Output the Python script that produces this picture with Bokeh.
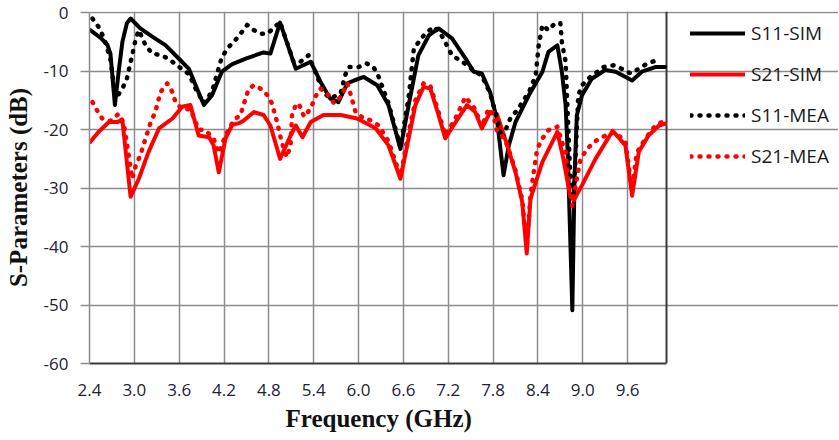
from bokeh.plotting import figure
from bokeh.models import (FixedTicker, Legend, LegendItem, Range1d, Grid, Title,
                          CustomJSTickFormatter)
from bokeh.embed import file_html
from bokeh.resources import INLINE

# ---------------- data ----------------
x_ticks = [2.4, 3.0, 3.6, 4.2, 4.8, 5.4, 6.0, 6.6, 7.2, 7.8, 8.4, 9.0, 9.6]
y_ticks = [0, -10, -20, -30, -40, -50, -60]
x_min, x_max = 2.4, 10.12
y_min, y_max = -60, 0

s11_sim_f = [2.41, 2.55, 2.64, 2.68, 2.74, 2.79, 2.84, 2.90, 2.95, 3.08, 3.24, 3.42,
             3.59, 3.73, 3.82, 3.93, 4.04, 4.17, 4.31, 4.50, 4.73, 4.82, 4.95, 5.16,
             5.36, 5.49, 5.62, 5.73, 5.85, 5.94, 6.07, 6.25, 6.40, 6.56, 6.67, 6.80,
             6.94, 7.07, 7.25, 7.43, 7.54, 7.65, 7.76, 7.85, 7.94, 8.01, 8.10, 8.28,
             8.46, 8.54, 8.66, 8.72, 8.77, 8.80, 8.86, 8.89, 8.92, 8.99, 9.12, 9.30,
             9.44, 9.66, 9.79, 9.97, 10.10]
s11_sim = [-3.0, -4.3, -5.5, -7.0, -15.8, -10.1, -5.0, -1.8, -1.0, -2.7, -4.1, -5.6,
           -7.8, -9.6, -12.4, -15.8, -14.1, -10.1, -8.8, -7.8, -6.8, -7.0, -1.7, -9.6,
           -8.4, -11.8, -14.7, -15.3, -12.1, -11.6, -11.0, -12.4, -15.8, -23.3, -15.8, -7.3,
           -3.9, -2.7, -4.4, -7.8, -10.1, -10.4, -13.6, -18.1, -27.8, -22.7, -18.7, -14.1,
           -10.1, -6.7, -5.6, -10.1, -15.8, -24.4, -50.9, -28.0, -17.6, -14.1, -11.3, -9.8,
           -10.1, -11.6, -10.1, -9.3, -9.3]

s21_sim_f = [2.41, 2.52, 2.66, 2.77, 2.84, 2.95, 3.06, 3.19, 3.33, 3.51, 3.64, 3.75,
             3.86, 4.00, 4.06, 4.13, 4.22, 4.31, 4.40, 4.46, 4.60, 4.73, 4.82, 4.95,
             5.09, 5.16, 5.25, 5.36, 5.53, 5.76, 5.98, 6.16, 6.23, 6.40, 6.56, 6.67,
             6.76, 6.87, 6.96, 7.07, 7.16, 7.30, 7.45, 7.56, 7.65, 7.76, 7.85, 7.99,
             8.10, 8.19, 8.25, 8.30, 8.46, 8.66, 8.74, 8.83, 8.88, 8.99, 9.17, 9.40,
             9.57, 9.66, 9.75, 9.88, 10.02, 10.10]
s21_sim = [-22.1, -20.4, -18.7, -18.7, -18.4, -31.5, -28.4, -23.8, -19.8, -18.1, -16.1, -15.8,
           -21.0, -21.3, -22.7, -27.3, -21.5, -19.2, -18.9, -18.5, -17.0, -17.5, -19.3, -25.0,
           -21.0, -19.3, -21.3, -18.7, -17.5, -17.5, -18.1, -19.3, -19.8, -22.7, -28.4, -21.5,
           -15.8, -12.7, -13.0, -17.5, -21.5, -18.7, -15.8, -17.0, -19.8, -17.0, -17.3, -22.7,
           -27.3, -32.4, -41.2, -31.8, -25.5, -20.4, -25.0, -31.3, -32.1, -29.5, -25.0, -20.2,
           -22.7, -31.3, -23.8, -21.0, -19.3, -19.0]

s11_mea_f = [2.44, 2.52, 2.60, 2.68, 2.75, 2.84, 2.90, 2.97, 3.02, 3.06, 3.15, 3.24,
             3.37, 3.48, 3.57, 3.73, 3.82, 3.93, 4.04, 4.17, 4.26, 4.35, 4.42, 4.51,
             4.60, 4.69, 4.78, 4.95, 5.13, 5.22, 5.33, 5.42, 5.53, 5.62, 5.76, 5.82,
             5.87, 6.00, 6.11, 6.20, 6.27, 6.40, 6.56, 6.67, 6.74, 6.89, 7.01, 7.12,
             7.25, 7.39, 7.56, 7.65, 7.76, 7.85, 7.92, 8.03, 8.14, 8.19, 8.28, 8.37,
             8.41, 8.46, 8.54, 8.63, 8.70, 8.72, 8.77, 8.83, 8.88, 8.94, 8.99, 9.10,
             9.28, 9.41, 9.52, 9.64, 9.75, 9.86, 10.00]
s11_mea = [-1.0, -2.4, -4.5, -8.0, -14.7, -13.0, -11.3, -7.3, -4.4, -3.0, -5.6, -7.0,
           -7.3, -8.1, -9.0, -10.5, -13.0, -15.5, -13.5, -7.6, -5.9, -4.7, -3.6, -2.1,
           -3.0, -3.6, -3.6, -1.6, -8.4, -8.4, -7.3, -10.1, -13.6, -14.7, -13.8, -10.7,
           -9.3, -9.3, -8.7, -9.3, -11.0, -15.5, -23.0, -14.5, -6.1, -3.6, -2.4, -4.1,
           -7.3, -8.4, -10.1, -10.8, -13.8, -18.0, -21.5, -18.1, -16.4, -15.3, -13.6, -10.7,
           -5.6, -2.1, -3.0, -1.8, -1.8, -5.0, -8.4, -27.3, -31.5, -14.1, -12.4, -11.0,
           -9.3, -9.0, -9.6, -10.4, -9.6, -8.7, -8.1]

s21_mea_f = [2.44, 2.50, 2.57, 2.68, 2.79, 2.86, 2.92, 2.97, 3.02, 3.08, 3.15, 3.22,
             3.28, 3.35, 3.44, 3.51, 3.55, 3.64, 3.75, 3.86, 3.95, 4.06, 4.13, 4.22,
             4.33, 4.42, 4.46, 4.53, 4.60, 4.69, 4.78, 4.84, 4.91, 4.97, 5.04, 5.09,
             5.11, 5.16, 5.20, 5.27, 5.36, 5.42, 5.49, 5.60, 5.67, 5.76, 5.85, 5.89,
             5.96, 6.07, 6.16, 6.27, 6.40, 6.56, 6.67, 6.76, 6.87, 6.96, 7.07, 7.16,
             7.30, 7.43, 7.56, 7.65, 7.74, 7.81, 7.85, 7.92, 7.99, 8.10, 8.19, 8.25,
             8.30, 8.35, 8.39, 8.46, 8.54, 8.66, 8.72, 8.77, 8.82, 8.86, 8.92, 8.97,
             9.06, 9.15, 9.26, 9.35, 9.44, 9.57, 9.66, 9.72, 9.84, 9.97, 10.06]
s21_mea = [-15.3, -16.7, -18.1, -18.5, -17.3, -19.0, -24.0, -28.4, -26.1, -24.4, -21.5, -18.7,
           -17.0, -13.6, -12.1, -13.6, -15.3, -16.5, -16.5, -20.0, -20.1, -21.5, -24.0, -21.0,
           -18.4, -17.5, -15.8, -13.0, -12.4, -13.0, -14.1, -15.5, -18.7, -22.1, -24.7, -22.7,
           -17.5, -15.8, -15.5, -17.8, -16.4, -14.4, -13.0, -14.1, -15.5, -14.4, -12.1, -13.8,
           -17.0, -18.1, -18.4, -19.3, -22.0, -28.0, -20.5, -15.0, -12.1, -12.5, -17.0, -21.0,
           -18.0, -14.4, -16.5, -19.5, -16.4, -17.8, -20.1, -21.0, -22.7, -27.0, -32.0, -40.0,
           -31.3, -26.7, -23.3, -21.5, -20.1, -19.5, -22.1, -23.8, -30.0, -33.0, -28.4, -25.0,
           -23.3, -22.1, -21.3, -20.7, -20.5, -22.1, -30.5, -24.0, -21.5, -19.3, -18.7]

# ---------------- layout (pixels) ----------------
W, H = 838, 440
LEFT, TOP, BOTTOM, RIGHT_PAD = 89, 11, 77, 0
PLOT_RIGHT_PX = 666            # right edge of the plotting box
frame_w = W - LEFT - RIGHT_PAD
px_per_x = (PLOT_RIGHT_PX - LEFT) / (x_max - x_min)
x_end = x_min + frame_w / px_per_x      # white space on the right holds the legend

GRID = "#8c8c8c"
DARK = "#3a3a3a"
TICKFONT = "Open Sans"

p = figure(width=W, height=H, output_backend="svg", toolbar_location=None,
           title=None,
           x_range=Range1d(x_min, x_end), y_range=Range1d(y_min, y_max + 0.2),
           min_border_left=LEFT, min_border_right=RIGHT_PAD, min_border_top=TOP,
           min_border_bottom=BOTTOM)
p.background_fill_color = "white"
p.border_fill_color = "white"
p.outline_line_color = None

xa = p.xaxis[0]
xa.bounds = (x_min, x_max)
xa.ticker = FixedTicker(ticks=x_ticks)
xa.formatter = CustomJSTickFormatter(code="return tick.toFixed(1)")
xa.major_tick_out = 0
xa.major_tick_in = 0
xa.minor_tick_out = 0
xa.minor_tick_in = 0
xa.axis_line_color = DARK
xa.axis_line_width = 2
xa.major_label_standoff = 20
xa.major_label_text_font = TICKFONT
xa.major_label_text_font_size = "17px"
xa.major_label_text_color = "#222233"

# x-axis title, centred under the plotting box (not the whole canvas)
xtitle = Title(text="Frequency (GHz)", align="left", offset=285 - LEFT,
               vertical_align="top", standoff=13,
               text_font="Liberation Serif", text_font_style="bold",
               text_font_size="25px", text_color="#111111")
p.add_layout(xtitle, "below")

ya = p.yaxis[0]
ya.bounds = (y_min, y_max)
ya.ticker = FixedTicker(ticks=y_ticks)
ya.formatter = CustomJSTickFormatter(code="return tick.toFixed(0)")
ya.major_tick_out = 9
ya.major_tick_in = 0
ya.minor_tick_out = 0
ya.minor_tick_in = 0
ya.major_tick_line_color = GRID
ya.major_tick_line_width = 1.5
ya.axis_line_color = GRID
ya.axis_line_width = 1.5
ya.major_label_standoff = 12
ya.major_label_text_font = TICKFONT
ya.major_label_text_font_size = "17px"
ya.major_label_text_color = "#222233"
ya.axis_label = "S-Parameters (dB)"
ya.axis_label_text_font = "Liberation Serif"
ya.axis_label_text_font_style = "bold"
ya.axis_label_text_font_size = "25px"
ya.axis_label_text_color = "#111111"
ya.axis_label_standoff = 9

p.xgrid.ticker = FixedTicker(ticks=x_ticks)
p.ygrid.ticker = FixedTicker(ticks=y_ticks)
p.xgrid.bounds = (y_min, y_max)
p.ygrid.bounds = (x_min, x_max)
p.xgrid.grid_line_color = GRID
p.ygrid.grid_line_color = GRID
p.xgrid.grid_line_width = 1.5
p.ygrid.grid_line_width = 1.5

# dark right edge of the plotting box
edge = Grid(dimension=0, ticker=FixedTicker(ticks=[x_max]), bounds=(y_min, y_max),
            grid_line_color=DARK, grid_line_width=2)
p.add_layout(edge)

r1 = p.line(s11_sim_f, s11_sim, line_color="black", line_width=4,
            line_join="round", line_cap="round")
r2 = p.line(s21_sim_f, s21_sim, line_color="#ff0000", line_width=4,
            line_join="round", line_cap="round")
r3 = p.line(s11_mea_f, s11_mea, line_color="black", line_width=4.5,
            line_dash="1 8", line_join="round", line_cap="round")
r4 = p.line(s21_mea_f, s21_mea, line_color="#ff0000", line_width=4.5,
            line_dash="1 8", line_join="round", line_cap="round")

legend = Legend(items=[LegendItem(label="S11-SIM", renderers=[r1]),
                       LegendItem(label="S21-SIM", renderers=[r2]),
                       LegendItem(label="S11-MEA", renderers=[r3]),
                       LegendItem(label="S21-MEA", renderers=[r4])],
                location=(690 - LEFT, 192), glyph_width=55, glyph_height=30,
                label_height=30, spacing=11, label_standoff=6, padding=0,
                margin=0, border_line_color=None, background_fill_alpha=0,
                label_text_font=TICKFONT, label_text_font_size="19px",
                label_text_color="#1a1a1a")
p.add_layout(legend)

open("out.html", "w").write(file_html(p, INLINE))
